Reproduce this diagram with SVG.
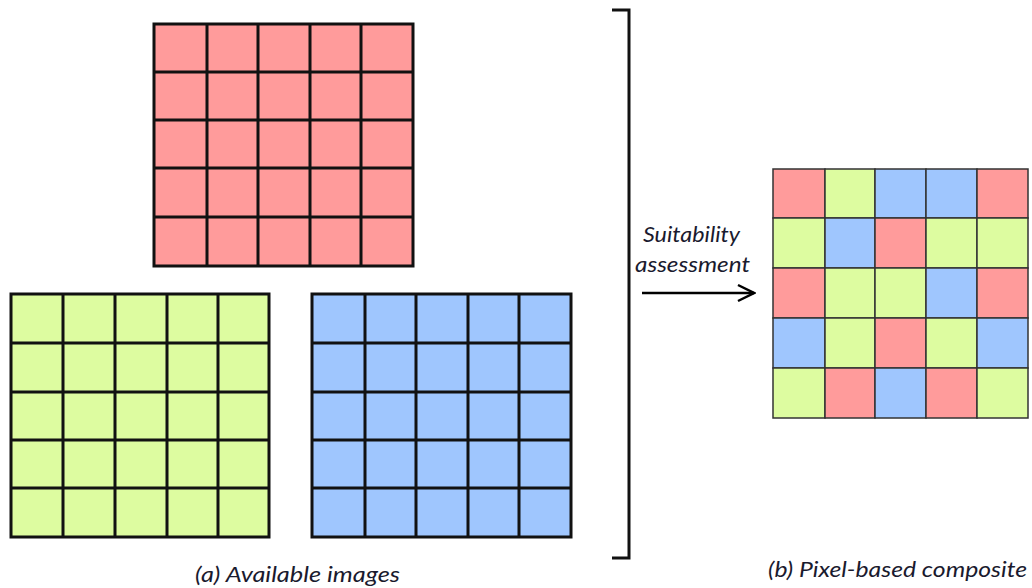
<svg xmlns="http://www.w3.org/2000/svg" width="1032" height="588" viewBox="0 0 1032 588">
<style>
.g{stroke:#111;stroke-width:3;fill:none;stroke-linecap:square}
.c{stroke:#333;stroke-width:1.5}
.r{fill:#ff9b9b}.y{fill:#ddfca0}.b{fill:#9fc6fe}
.t{font-family:Lato,"Open Sans","Liberation Sans",sans-serif;font-style:italic;fill:#1a1a2e}
</style>
<defs>
<marker id="ah" viewBox="0 0 20 20" refX="18" refY="10" markerWidth="20" markerHeight="20" markerUnits="userSpaceOnUse" orient="auto">
<path d="M2,2 L18,10 L2,18" fill="none" stroke="#000" stroke-width="2.5"/>
</marker>
</defs>
<rect width="1032" height="588" fill="#fff"/>
<g id="img-red">
<rect x="154" y="24" width="259" height="242" class="r"/>
<path class="g" d="M154,24H413V266H154Z M207,24V266 M258,24V266 M310,24V266 M361,24V266 M154,72H413 M154,120H413 M154,168H413 M154,217H413"/>
</g>
<g id="img-green">
<rect x="11" y="294" width="258" height="243" class="y"/>
<path class="g" d="M11,294H269V537H11Z M63,294V537 M115,294V537 M167,294V537 M218,294V537 M11,343H269 M11,392H269 M11,440H269 M11,488H269"/>
</g>
<g id="img-blue">
<rect x="312" y="294" width="259" height="243" class="b"/>
<path class="g" d="M312,294H571V537H312Z M365,294V537 M416,294V537 M468,294V537 M519,294V537 M312,343H571 M312,392H571 M312,440H571 M312,488H571"/>
</g>
<g id="composite">
<rect x="773" y="169" width="52" height="49" class="r c"/><rect x="825" y="169" width="50" height="49" class="y c"/><rect x="875" y="169" width="51" height="49" class="b c"/><rect x="926" y="169" width="51" height="49" class="b c"/><rect x="977" y="169" width="51" height="49" class="r c"/>
<rect x="773" y="218" width="52" height="50" class="y c"/><rect x="825" y="218" width="50" height="50" class="b c"/><rect x="875" y="218" width="51" height="50" class="r c"/><rect x="926" y="218" width="51" height="50" class="y c"/><rect x="977" y="218" width="51" height="50" class="y c"/>
<rect x="773" y="268" width="52" height="50" class="r c"/><rect x="825" y="268" width="50" height="50" class="y c"/><rect x="875" y="268" width="51" height="50" class="y c"/><rect x="926" y="268" width="51" height="50" class="b c"/><rect x="977" y="268" width="51" height="50" class="r c"/>
<rect x="773" y="318" width="52" height="50" class="b c"/><rect x="825" y="318" width="50" height="50" class="y c"/><rect x="875" y="318" width="51" height="50" class="r c"/><rect x="926" y="318" width="51" height="50" class="y c"/><rect x="977" y="318" width="51" height="50" class="b c"/>
<rect x="773" y="368" width="52" height="50" class="y c"/><rect x="825" y="368" width="50" height="50" class="r c"/><rect x="875" y="368" width="51" height="50" class="b c"/><rect x="926" y="368" width="51" height="50" class="r c"/><rect x="977" y="368" width="51" height="50" class="y c"/>
</g>
<g id="connectors">
<path d="M612,10H629V558H612" fill="none" stroke="#111" stroke-width="3"/>
<line x1="642" y1="293" x2="754" y2="293" stroke="#000" stroke-width="2.5" marker-end="url(#ah)"/>
</g>
<g id="labels">
<text class="t" x="643" y="242" font-size="21" textLength="97" lengthAdjust="spacingAndGlyphs">Suitability</text>
<text class="t" x="635" y="272" font-size="21" textLength="115" lengthAdjust="spacingAndGlyphs">assessment</text>
<text class="t" x="195" y="582" font-size="21" textLength="205" lengthAdjust="spacingAndGlyphs">(a) Available images</text>
<text class="t" x="768" y="577" font-size="21" textLength="259" lengthAdjust="spacingAndGlyphs">(b) Pixel-based composite</text>
</g>
</svg>
